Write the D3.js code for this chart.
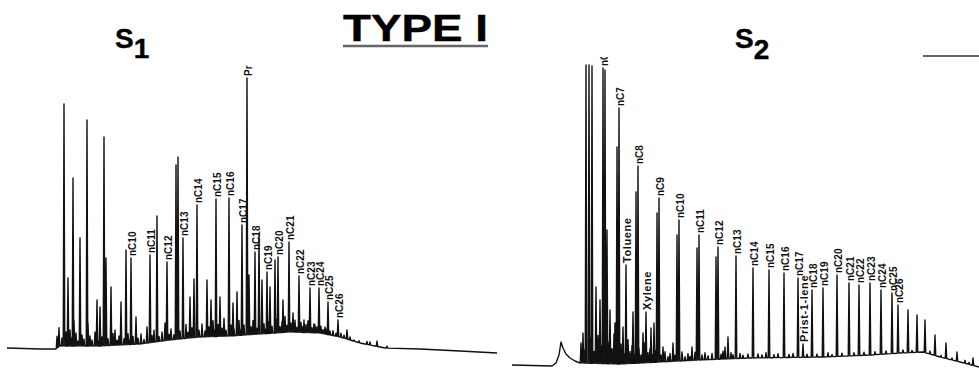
<!DOCTYPE html>
<html lang="en">
<head>
  <meta charset="UTF-8">
  <title>Type I - S1 / S2 chromatograms</title>
  <style>
    body { margin: 0; background: #fff; }
    svg { display: block; }
    .trace { fill: none; stroke: #111; stroke-width: 1.4px; stroke-linejoin: round; }
    .title { font-family: "Liberation Sans", Arial, sans-serif; font-weight: bold; fill: #000; stroke: #000; stroke-width: 0.4px; }
    .peak-label { font-family: "Liberation Sans", Arial, sans-serif; font-weight: bold; font-size: 10px; fill: #111; }
    .peak-label.compound { font-size: 11px; letter-spacing: 0.6px; }
  </style>
</head>
<body>
  <svg id="chart"></svg>

  <script src="https://cdn.jsdelivr.net/npm/d3@7/dist/d3.min.js"></script>
  <script>
    // --- data (retention in chart units, response in detector units) ---

    // S1 baseline (hump under the trace)
    const s1BaseT = [0, 33, 49, 53, 93, 133, 163, 193, 223, 253, 283, 313, 333, 353, 378, 413, 453, 490];
    const s1BaseR = [22, 21, 21, 24, 24, 26, 30, 33, 34, 36, 38, 37, 33, 27, 22, 21, 19, 17];

    // S1 labelled peaks
    const s1Names = ["nC10", "nC11", "nC12", "nC13", "nC14", "nC15", "nC16", "nC17", "Pr", "nC18",
                     "nC19", "nC20", "nC21", "nC22", "nC23", "nC24", "nC25", "nC26"];
    const s1NameT = [124, 143, 160, 176, 190, 209, 222, 235, 240, 248, 260, 271, 282, 292, 303, 312, 321, 331];
    const s1NameR = [112, 115, 108, 132, 165, 171, 172, 145, 292, 118, 98, 113, 128, 94, 82, 82, 68, 50];

    // S1 other peaks
    const s1OtherT = [57, 61, 66, 67, 73, 80, 81, 90, 93, 97, 99, 104, 108, 114, 119, 129, 140, 150, 158, 169,
                      171, 183, 187, 200, 204, 213, 226, 230, 242, 252, 255, 263, 268, 276, 286, 297, 308, 318,
                      340, 347, 363, 370];
    const s1OtherR = [266, 92, 192, 50, 132, 250, 47, 70, 63, 233, 112, 83, 40, 68, 120, 53, 43, 154, 47, 205,
                      213, 73, 91, 90, 70, 73, 67, 78, 95, 135, 90, 83, 110, 70, 57, 50, 45, 43,
                      40, 30, 28, 29];

    // S1 unresolved "grass" (height above baseline)
    const s1GrassT = [50, 52, 55, 59, 60, 63, 65, 69, 71, 75, 77, 83, 85, 88, 92, 95, 101, 106, 110, 112,
                      117, 121, 123, 126, 131, 134, 137, 145, 147, 152, 155, 162, 164, 167, 173, 179, 181, 185,
                      192, 195, 198, 202, 206, 208, 211, 215, 217, 219, 224, 227, 232, 234, 237, 244, 246, 250,
                      257, 259, 262, 265, 269, 273, 275, 278, 280, 284, 288, 290, 294, 296, 299, 301, 305, 307,
                      310, 314, 316, 320, 323, 326, 329, 334, 337, 343, 352, 360, 380];
    const s1GrassH = [12, 19, 8, 14, 6, 16, 9, 13, 5, 11, 7, 10, 6, 14, 5, 9, 7, 12, 5, 9,
                      6, 11, 5, 8, 6, 10, 4, 7, 12, 5, 9, 6, 11, 5, 8, 14, 6, 10,
                      7, 13, 6, 10, 16, 7, 12, 8, 18, 6, 11, 7, 15, 6, 10, 8, 14, 6,
                      10, 5, 12, 7, 14, 6, 11, 16, 7, 9, 12, 5, 10, 6, 8, 12, 5, 9,
                      6, 7, 4, 6, 4, 5, 3, 4, 3, 3, 2, 3, 2];

    // S2 baseline (includes the early solvent bump)
    const s2BaseT = [0, 40, 44, 47, 49, 51, 54, 58, 63, 68, 108, 148, 188, 238, 311, 358, 388, 411, 428, 448, 467];
    const s2BaseR = [5, 4, 7, 15, 28, 22, 16, 12, 9, 7, 6, 8, 10, 12, 13, 15, 17, 18, 13, 8, 3];

    // S2 labelled peaks
    const s2Names = ["nC6", "nC7", "Toluene", "nC8", "Xylene", "nC9", "nC10", "nC11", "nC12", "nC13", "nC14",
                     "nC15", "nC16", "nC17", "Prist-1-lene", "nC18", "nC19", "nC20", "nC21", "nC22", "nC23",
                     "nC24", "nC25", "nC26"];
    const s2NameT = [91, 107, 114, 126, 134, 147, 167, 187, 206, 224, 241, 257, 272, 286, 291, 300, 311, 325,
                     337, 347, 358, 369, 380, 386];
    const s2NameR = [302, 262, 105, 204, 58, 172, 150, 135, 123, 114, 102, 100, 97, 92, 26, 80, 82, 95,
                     87, 85, 87, 80, 77, 65];

    // S2 other peaks
    const s2OtherT = [74, 77, 80, 93, 84, 88, 95, 98, 103, 105, 111, 121, 124, 131, 139, 142, 145, 151, 161,
                      165, 180, 185, 204, 213, 216, 396, 405, 413, 423, 434, 445, 461];
    const s2OtherR = [305, 305, 304, 300, 83, 70, 140, 60, 47, 223, 43, 58, 178, 37, 42, 47, 157, 23, 27,
                      135, 23, 122, 113, 23, 33, 60, 55, 50, 35, 27, 18, 12];

    // S2 grass (height above baseline)
    const s2GrassT = [69, 71, 73, 79, 82, 86, 90, 92, 96, 100, 102, 106, 109, 112, 116, 118, 120, 123, 127,
                      129, 132, 136, 138, 141, 144, 149, 153, 156, 158, 163, 170, 173, 176, 178, 183, 190,
                      193, 196, 200, 209, 211, 219, 221, 228, 231, 236, 246, 250, 254, 262, 266, 277, 281,
                      295, 305, 316, 320, 330, 342, 352, 363, 374, 391, 400, 418, 429, 440, 453, 457];
    const s2GrassH = [20, 30, 14, 25, 12, 28, 18, 9, 22, 15, 30, 12, 20, 10, 24, 12, 18, 9, 15,
                      8, 20, 10, 14, 8, 12, 7, 10, 5, 8, 6, 9, 4, 7, 4, 8, 5,
                      7, 4, 6, 5, 8, 6, 4, 5, 3, 4, 4, 3, 5, 3, 4, 3, 4,
                      3, 3, 4, 2, 3, 3, 3, 3, 3, 3, 2, 3, 2, 2, 3, 2];

    // --- layout ---
    const width = 979, height = 381;
    const svg = d3.select("#chart").attr("width", width).attr("height", height);

    const y = d3.scaleLinear().domain([0, 320]).range([370, 50]);

    const panels = [
      { x: d3.scaleLinear().domain([0, 490]).range([7, 497]),
        base: d3.scaleLinear().domain(s1BaseT).range(s1BaseR).clamp(true),
        baseT: s1BaseT, names: s1Names, nameT: s1NameT, nameR: s1NameR,
        otherT: s1OtherT, otherR: s1OtherR, grassT: s1GrassT, grassH: s1GrassH },
      { x: d3.scaleLinear().domain([0, 467]).range([512, 979]),
        base: d3.scaleLinear().domain(s2BaseT).range(s2BaseR).clamp(true),
        baseT: s2BaseT, names: s2Names, nameT: s2NameT, nameR: s2NameR,
        otherT: s2OtherT, otherR: s2OtherR, grassT: s2GrassT, grassH: s2GrassH }
    ];

    // clip so that the cut-off label at the top of S2 looks like the scan
    svg.append("clipPath").attr("id", "clip-top")
      .append("rect").attr("x", 0).attr("y", 57).attr("width", width).attr("height", height);

    const w = 0.75; // half width of a peak, in retention units

    panels.forEach(p => {
      // collect every peak as [t, top response]
      const peaks = [];
      p.nameT.forEach((t, i) => peaks.push([t, p.nameR[i]]));
      p.otherT.forEach((t, i) => peaks.push([t, p.otherR[i]]));
      p.grassT.forEach((t, i) => peaks.push([t, p.base(t) + p.grassH[i]]));
      peaks.sort((a, b) => a[0] - b[0]);

      // build the trace: baseline knots + one spike per peak
      const pts = [];
      let k = 0;
      peaks.forEach(([t, r]) => {
        while (k < p.baseT.length && p.baseT[k] < t - w) {
          pts.push([p.baseT[k], p.base(p.baseT[k])]);
          k++;
        }
        pts.push([t - w, p.base(t - w)]);
        pts.push([t, r]);
        pts.push([t + w, p.base(t + w)]);
      });
      while (k < p.baseT.length) {
        pts.push([p.baseT[k], p.base(p.baseT[k])]);
        k++;
      }

      const line = d3.line().x(d => p.x(d[0])).y(d => y(d[1]));
      svg.append("path").attr("class", "trace").attr("d", line(pts));

      // peak labels, written upward above each peak
      svg.append("g").attr("clip-path", "url(#clip-top)")
        .selectAll("text")
        .data(p.names)
        .join("text")
        .attr("class", d => d.startsWith("nC") || d === "Pr" ? "peak-label" : "peak-label compound")
        .attr("transform", (d, i) => `translate(${p.x(p.nameT[i]) + 1},${y(p.nameR[i]) - 2}) rotate(-90)`)
        .attr("dy", "0.35em")
        .text(d => d);
    });

    // --- titles ---
    const s1 = svg.append("text").attr("class", "title").attr("x", 115).attr("y", 48).attr("font-size", 28);
    s1.append("tspan").text("S");
    s1.append("tspan").attr("dy", 10).text("1");

    const s2 = svg.append("text").attr("class", "title").attr("x", 735).attr("y", 48).attr("font-size", 28);
    s2.append("tspan").text("S");
    s2.append("tspan").attr("dy", 11).text("2");

    svg.append("text").attr("class", "title")
      .attr("x", 343).attr("y", 41)
      .attr("font-size", 36)
      .attr("textLength", 145)
      .attr("lengthAdjust", "spacingAndGlyphs")
      .text("TYPE I");
    svg.append("line")
      .attr("x1", 343).attr("x2", 488).attr("y1", 46).attr("y2", 46)
      .attr("stroke", "#666").attr("stroke-width", 2.5);

    // stray rule at the top right of the scan
    svg.append("line")
      .attr("x1", 923).attr("x2", 979).attr("y1", 56).attr("y2", 56)
      .attr("stroke", "#333").attr("stroke-width", 1.5);
  </script>
</body>
</html>
